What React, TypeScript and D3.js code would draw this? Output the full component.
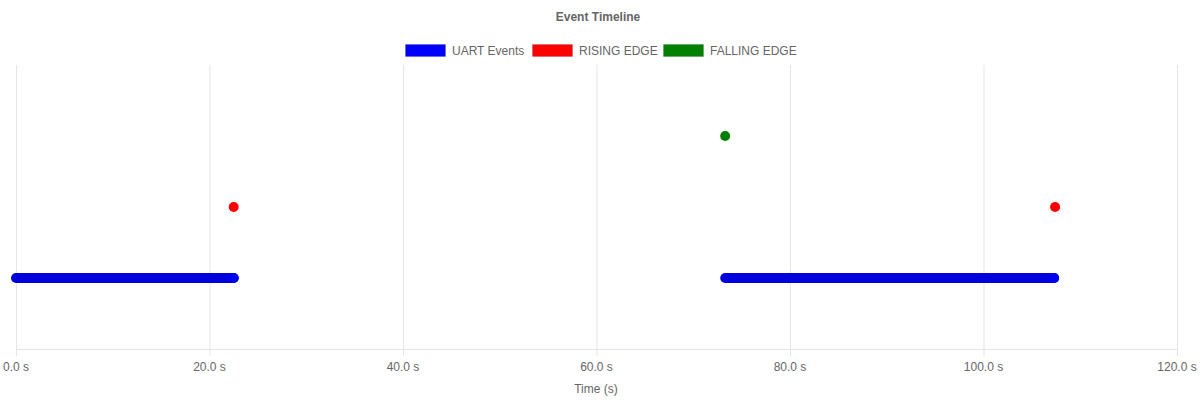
import React from "react";
import * as d3 from "d3";

const seriesNames = ["UART Events", "RISING EDGE", "FALLING EDGE"];
const seriesColors = ["#0000ff", "#ff0000", "#008000"];
const uartSegments: [number, number][] = [
  [0, 22.5],
  [73.3, 107.3],
];
const risingEdges = [22.5, 107.4];
const fallingEdges = [73.3];
const xTicks = [0, 20, 40, 60, 80, 100, 120];
const levels = [0, 1, 2]; // UART, RISING, FALLING

const W = 1200;
const H = 400;

export default function App() {
  const x = d3.scaleLinear().domain([0, 120]).range([16, 1177]);
  const y = d3.scaleLinear().domain([-1, 3]).range([349, 65]);
  const font = "'Helvetica Neue', Helvetica, Arial, 'Liberation Sans', sans-serif";
  const line = d3.line<number>().x((d) => x(d)).y(() => y(levels[0]));

  // legend layout
  const legendWidths = [117, 121, 130];
  const gap = 10;
  let lx = 405;
  const legendX: number[] = [];
  legendWidths.forEach((w) => {
    legendX.push(lx);
    lx += w + gap;
  });

  return (
    <svg width={W} height={H} style={{ position: "absolute", left: 0, top: 0 }} fontFamily={font}>
      <rect width={W} height={H} fill="#fff" />
      <text x={598} y={21} textAnchor="middle" fontSize={12} fontWeight="bold" fill="#666">
        Event Timeline
      </text>
      {seriesNames.map((n, i) => (
        <g key={n}>
          <rect x={legendX[i] + 0.5} y={44.5} width={40} height={12} fill={seriesColors[i]} stroke="rgba(0,0,0,0.12)" strokeWidth={1} />
          <text x={legendX[i] + 47} y={54.5} fontSize={12} fill="#666">
            {n}
          </text>
        </g>
      ))}
      {xTicks.map((t) => (
        <g key={t}>
          <line x1={x(t) + 0.5} x2={x(t) + 0.5} y1={65} y2={356} stroke="#e5e5e5" />
          <text x={x(t)} y={371} textAnchor="middle" fontSize={12} fill="#666">
            {t.toFixed(1)} s
          </text>
        </g>
      ))}
      <line x1={16} x2={1177} y1={349.5} y2={349.5} stroke="#e5e5e5" />
      <text x={596} y={393} textAnchor="middle" fontSize={12} fill="#666">
        Time (s)
      </text>
      {uartSegments.map((s, i) => (
        <g key={i}>
          <path d={line(s) || ""} stroke="#0000dd" strokeWidth={10} strokeLinecap="round" fill="none" />
          <circle cx={x(s[1])} cy={y(levels[0])} r={5} fill="#0000f0" />
        </g>
      ))}
      {risingEdges.map((t, i) => (
        <circle key={"r" + i} cx={x(t)} cy={y(levels[1])} r={5} fill={seriesColors[1]} />
      ))}
      {fallingEdges.map((t, i) => (
        <circle key={"f" + i} cx={x(t)} cy={y(levels[2])} r={5} fill={seriesColors[2]} />
      ))}
    </svg>
  );
}
